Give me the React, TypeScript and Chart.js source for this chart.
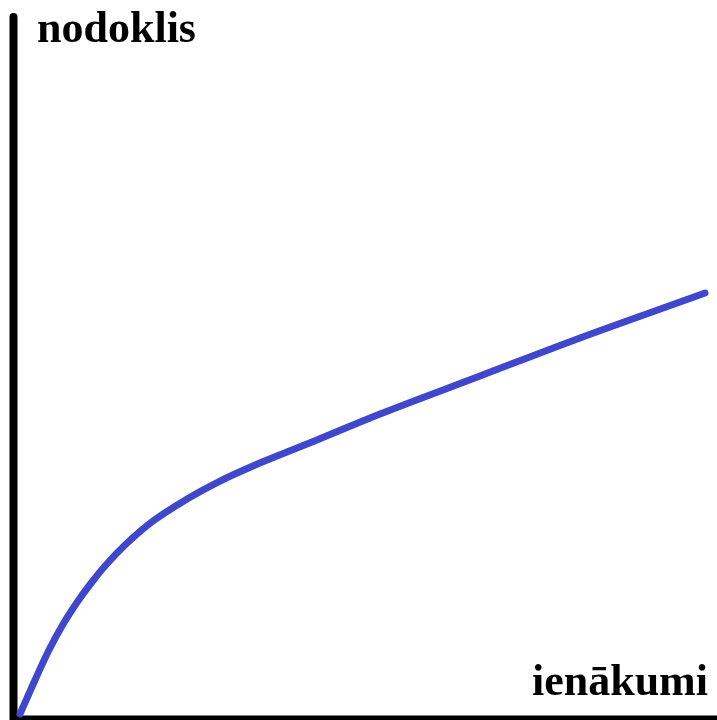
import React, { useEffect, useRef } from "react";
import { Chart, registerables } from "chart.js";

Chart.register(...registerables);

// income (x) and tax (y), arbitrary units 0..100
const incomeValues = [0.99, 3.13, 4.97, 6.96, 9.23, 11.22, 13.07, 15.91, 19.89, 24.72, 29.4, 34.09, 38.92, 43.18, 52.13, 66.34, 80.54, 94.74, 98.3];
const taxValues = [0.57, 5.4, 9.38, 13.07, 16.62, 19.32, 21.59, 24.57, 27.98, 31.11, 33.66, 35.8, 37.78, 39.49, 43.18, 48.58, 53.98, 59.09, 60.37];

const yAxisLabel = "nodoklis";
const xAxisLabel = "ienākumi";

const LINE_COLOR = "rgb(63, 72, 204)";
const FONT = "bold 44px 'Liberation Serif', 'Times New Roman', serif";

const axesPlugin = {
  id: "axesAndLabels",
  beforeDatasetsDraw(chart: any) {
    const { ctx, chartArea } = chart;
    const { left, right, top, bottom } = chartArea;
    ctx.save();
    ctx.strokeStyle = "#000";
    // vertical axis
    ctx.lineWidth = 8;
    ctx.lineCap = "round";
    ctx.beginPath();
    ctx.moveTo(left + 0.5, top + 3);
    ctx.lineTo(left + 0.5, bottom + 10);
    ctx.stroke();
    // horizontal axis
    ctx.lineCap = "butt";
    ctx.lineWidth = 5;
    ctx.beginPath();
    ctx.moveTo(left - 3, bottom);
    ctx.lineTo(right, bottom);
    ctx.stroke();
    // labels
    ctx.fillStyle = "#000";
    ctx.font = FONT;
    ctx.textBaseline = "alphabetic";
    ctx.textAlign = "left";
    ctx.fillText(yAxisLabel, left + 24, top + 28);
    ctx.textAlign = "right";
    ctx.fillText(xAxisLabel, right - 9, bottom - 23);
    ctx.restore();
  },
};

export default function App() {
  const canvasRef = useRef<HTMLCanvasElement | null>(null);

  useEffect(() => {
    if (!canvasRef.current) return;
    const data = incomeValues.map((x, i) => ({ x, y: taxValues[i] }));
    const chart = new Chart(canvasRef.current, {
      type: "line",
      data: {
        datasets: [
          {
            data,
            borderColor: LINE_COLOR,
            borderWidth: 7,
            borderCapStyle: "round",
            borderJoinStyle: "round",
            pointRadius: 0,
            cubicInterpolationMode: "monotone",
            fill: false,
            clip: false as any,
          },
        ],
      },
      options: {
        responsive: false,
        animation: false,
        layout: { padding: { left: 13, right: 0, top: 14, bottom: 2 } },
        plugins: { legend: { display: false }, tooltip: { enabled: false }, title: { display: false } },
        scales: {
          x: { type: "linear", min: 0, max: 100, display: false },
          y: { type: "linear", min: 0, max: 100, display: false },
        },
      },
      plugins: [axesPlugin],
    });
    return () => chart.destroy();
  }, []);

  return (
    <div style={{ position: "fixed", left: 0, top: 0, width: 717, height: 720, background: "#fff" }}>
      <canvas ref={canvasRef} width={717} height={720} style={{ width: 717, height: 720, display: "block" }} />
    </div>
  );
}
